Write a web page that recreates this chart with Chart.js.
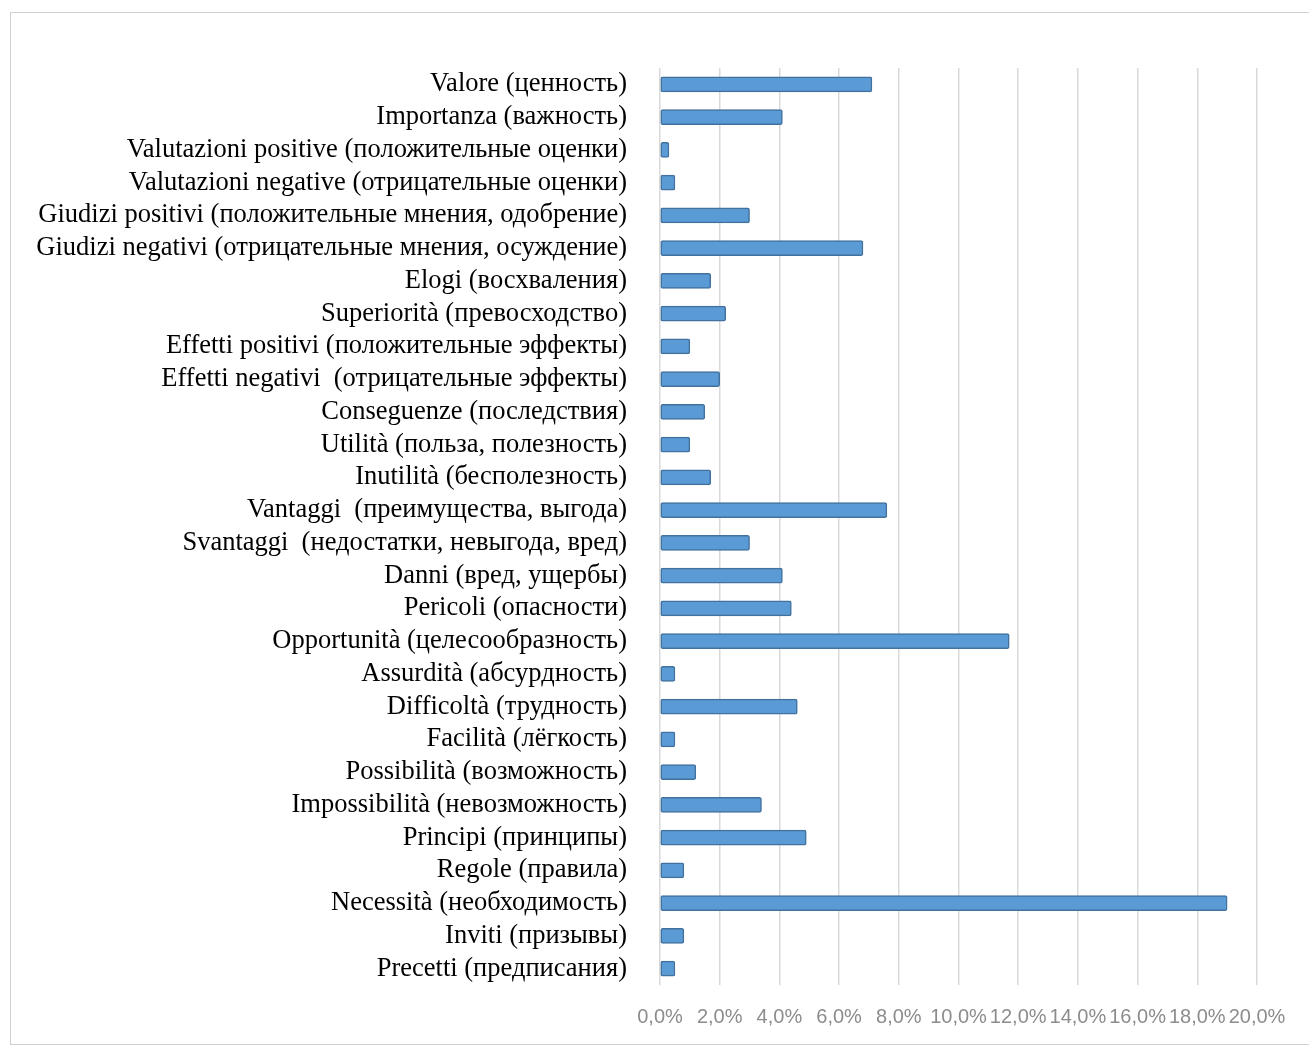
<!DOCTYPE html>
<html>
<head>
<meta charset="utf-8">
<script src="https://cdn.jsdelivr.net/npm/chart.js@4"></script>
<style>
    body { margin: 0; background: #fff; }
    #wrap { position: relative; width: 1309px; height: 1053px; }
    #frame { position: absolute; left: 10px; top: 12px; width: 1310px; height: 1031px; border: 1px solid #d0d0d0; }
    canvas { position: absolute; left: 0; top: 0; }
</style>
</head>
<body>
<div id="wrap">
    <div id="frame"></div>
    <canvas id="chart" width="1309" height="1053"></canvas>
</div>
<script>
// Categories (top to bottom)
const categories = [
    'Valore (ценность)',
    'Importanza (важность)',
    'Valutazioni positive (положительные оценки)',
    'Valutazioni negative (отрицательные оценки)',
    'Giudizi positivi (положительные мнения, одобрение)',
    'Giudizi negativi (отрицательные мнения, осуждение)',
    'Elogi (восхваления)',
    'Superiorità (превосходство)',
    'Effetti positivi (положительные эффекты)',
    'Effetti negativi  (отрицательные эффекты)',
    'Conseguenze (последствия)',
    'Utilità (польза, полезность)',
    'Inutilità (бесполезность)',
    'Vantaggi  (преимущества, выгода)',
    'Svantaggi  (недостатки, невыгода, вред)',
    'Danni (вред, ущербы)',
    'Pericoli (опасности)',
    'Opportunità (целесообразность)',
    'Assurdità (абсурдность)',
    'Difficoltà (трудность)',
    'Facilità (лёгкость)',
    'Possibilità (возможность)',
    'Impossibilità (невозможность)',
    'Principi (принципы)',
    'Regole (правила)',
    'Necessità (необходимость)',
    'Inviti (призывы)',
    'Precetti (предписания)'
];

// Share of each category, in percent
const shares = [
    7.1, 4.1, 0.3, 0.5, 3.0, 6.8, 1.7, 2.2, 1.0, 2.0,
    1.5, 1.0, 1.7, 7.6, 3.0, 4.1, 4.4, 11.7, 0.5, 4.6,
    0.5, 1.2, 3.4, 4.9, 0.8, 19.0, 0.8, 0.5
];

// Axis ticks
const tickValues = [0, 2, 4, 6, 8, 10, 12, 14, 16, 18, 20];

const ctx = document.getElementById('chart').getContext('2d');

new Chart(ctx, {
    type: 'bar',
    data: {
        labels: categories,
        datasets: [{
            data: shares,
            backgroundColor: '#5b9bd5',
            borderColor: '#41719c',
            borderWidth: 1.5,
            borderSkipped: false,
            borderRadius: 2,
            barThickness: 15
        }]
    },
    options: {
        indexAxis: 'y',
        responsive: false,
        animation: false,
        layout: {
            padding: { top: 68, right: 52, bottom: 0, left: 0 }
        },
        plugins: {
            legend: { display: false },
            tooltip: { enabled: false }
        },
        scales: {
            x: {
                min: 0,
                max: 20,
                afterBuildTicks: function(scale) {
                    scale.ticks = tickValues.map(v => ({ value: v }));
                },
                afterFit: function(scale) {
                    scale.height = 68;
                },
                grid: {
                    color: '#d9d9d9',
                    lineWidth: 1.5,
                    drawTicks: false
                },
                border: { display: false },
                ticks: {
                    autoSkip: false,
                    maxRotation: 0,
                    minRotation: 0,
                    padding: 20,
                    color: '#8c8c8c',
                    font: { family: 'Liberation Sans', size: 20 },
                    callback: function(value) {
                        return value.toFixed(1).replace('.', ',') + '%';
                    }
                }
            },
            y: {
                afterFit: function(scale) {
                    scale.width = 660;
                },
                grid: { display: false, drawTicks: false },
                border: { display: false },
                ticks: {
                    autoSkip: false,
                    padding: 33,
                    color: '#000',
                    font: { family: 'Liberation Serif', size: 26.5 }
                }
            }
        }
    }
});
</script>
</body>
</html>
